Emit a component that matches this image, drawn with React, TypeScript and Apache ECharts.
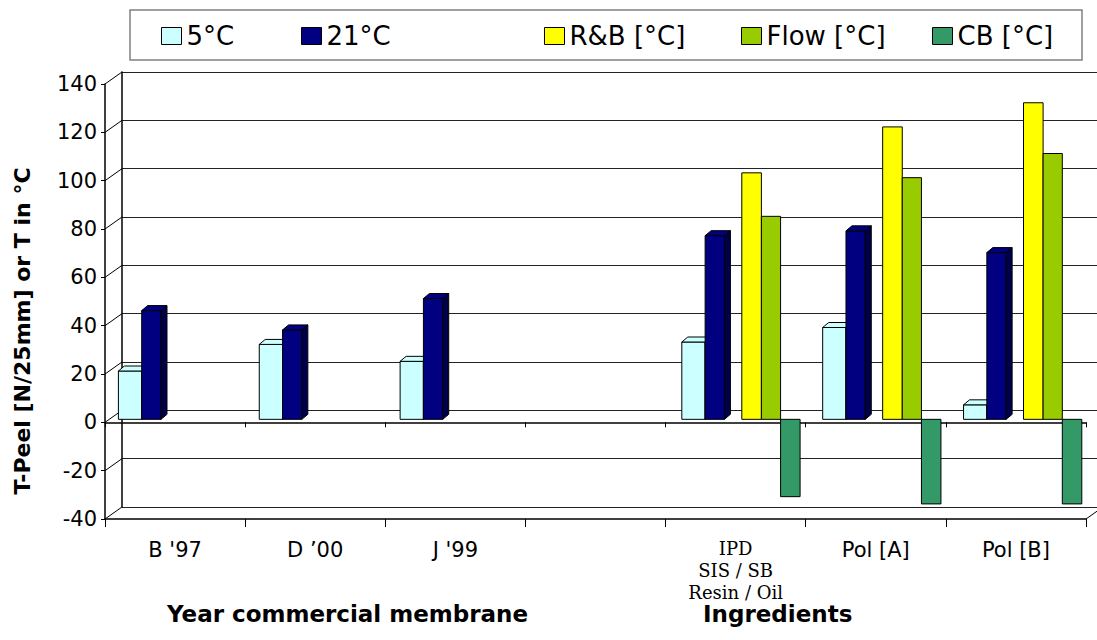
import React, { useEffect, useRef } from "react";
import * as echarts from "echarts";

// ---------- data ----------
const categories = ["B '97", "D ’00", "J '99", "", "IPD\nSIS / SB\nResin / Oil", "Pol [A]", "Pol [B]"];
const seriesNames = ["5°C", "21°C", "R&B [°C]", "Flow [°C]", "CB [°C]"];
const peel5C: (number | null)[] = [20, 31, 24, null, 32, 38, 6];
const peel21C: (number | null)[] = [45, 37, 50, null, 76, 78, 69];
const ringBall: (number | null)[] = [null, null, null, null, 102, 121, 131];
const flowTemp: (number | null)[] = [null, null, null, null, 84, 100, 110];
const coldBend: (number | null)[] = [null, null, null, null, -32, -35, -35];
const yTicks = [-40, -20, 0, 20, 40, 60, 80, 100, 120, 140];
const yTitle = "T-Peel [N/25mm] or T in °C";
const xTitleLeft = "Year commercial membrane";
const xTitleRight = "Ingredients";

// ---------- styles ----------
const COLORS = ["#CCFFFF", "#000080", "#FFFF00", "#99CC00", "#339966"];
const TOPS = ["#CCFFFF", "#000080", "#FFFF00", "#99CC00", "#339966"];
const SIDES = ["#99CCCC", "#00004A", "#CCCC00", "#779900", "#226644"];
// bar slot [start, end] as fraction of category width
const SLOTS = [
  [0.0809, 0.2463],
  [0.2463, 0.3833],
  [0.5067, 0.6458],
  [0.6458, 0.7821],
  [0.7821, 0.9205],
];
const BAR_DX = 6;
const BAR_DY = 5;
const WALL_DX = 17;
const WALL_DY = 12;
const LEGEND_LEFT = [161, 301, 544, 741, 932];

const allSeries = [peel5C, peel21C, ringBall, flowTemp, coldBend];

function makeBar(si: number, threeD: boolean) {
  return (params: any, api: any) => {
    const ci = api.value(0);
    const v = api.value(1);
    const catW = api.size([1, 0])[0];
    const base = api.coord([ci, 0]);
    const top = api.coord([ci, v]);
    const left = base[0] - catW / 2;
    const x0 = left + catW * SLOTS[si][0];
    const x1 = left + catW * SLOTS[si][1];
    const y0 = base[1];
    const y1 = top[1];
    const children: any[] = [
      {
        type: "rect",
        shape: { x: x0, y: Math.min(y0, y1), width: x1 - x0, height: Math.abs(y1 - y0) },
        style: { fill: COLORS[si], stroke: "#000", lineWidth: 1 },
      },
    ];
    if (threeD) {
      children.push({
        type: "polygon",
        shape: { points: [[x0, y1], [x1, y1], [x1 + BAR_DX, y1 - BAR_DY], [x0 + BAR_DX, y1 - BAR_DY]] },
        style: { fill: TOPS[si], stroke: "#000", lineWidth: 1 },
      });
      children.push({
        type: "polygon",
        shape: { points: [[x1, y1], [x1 + BAR_DX, y1 - BAR_DY], [x1 + BAR_DX, y0 - BAR_DY], [x1, y0]] },
        style: { fill: SIDES[si], stroke: "#000", lineWidth: 1 },
      });
    }
    return { type: "group", children };
  };
}

function frameRender(params: any, api: any) {
  const v = api.value(1);
  const cs = params.coordSys;
  const y = api.coord([0, v])[1];
  const children: any[] = [
    {
      type: "line",
      shape: { x1: cs.x, y1: y, x2: cs.x + WALL_DX, y2: y - WALL_DY },
      style: { stroke: "#000", lineWidth: 1 },
    },
  ];
  if (v === yTicks[0]) {
    children.push({
      type: "line",
      shape: { x1: cs.x + cs.width, y1: y, x2: cs.x + cs.width + WALL_DX, y2: y - WALL_DY },
      style: { stroke: "#000", lineWidth: 1 },
    });
  }
  return { type: "group", children };
}

const valueAxisBase = { type: "value", min: -40, max: 140, interval: 20 };

export default function App() {
  const ref = useRef<HTMLDivElement>(null);
  useEffect(() => {
    if (!ref.current) return;
    const chart = echarts.init(ref.current, null, { renderer: "svg" });
    const option: any = {
      animation: false,
      backgroundColor: "#fff",
      grid: [
        { left: 122, top: 72, width: 981, height: 435 },
        { left: 105, top: 84, width: 981, height: 435 },
        { left: 107, top: 81, width: 986, height: 435 },
      ],
      xAxis: [
        { type: "category", gridIndex: 0, data: categories, show: false },
        {
          type: "category",
          gridIndex: 1,
          data: categories,
          position: "bottom",
          axisLine: { onZero: false, lineStyle: { color: "#000", width: 1.5 } },
          axisTick: { show: true, length: 8, lineStyle: { color: "#000" } },
          axisLabel: {
            interval: 0,
            margin: 18,
            color: "#000",
            formatter: (val: string) =>
              val.indexOf("\n") >= 0
                ? val
                    .split("\n")
                    .map((l) => "{s|" + l + "}")
                    .join("\n")
                : "{n|" + val + "}",
            rich: {
              s: { fontFamily: "DejaVu Serif", fontSize: 18, lineHeight: 22, color: "#000" },
              n: {
                fontFamily: "DejaVu Sans",
                fontSize: 21,
                lineHeight: 22,
                padding: [4, 0, 0, 0],
                color: "#000",
              },
            },
          },
        },
        {
          type: "category",
          gridIndex: 1,
          data: categories,
          position: "bottom",
          axisLine: { onZero: true, onZeroAxisIndex: 1, lineStyle: { color: "#000", width: 1.5 } },
          axisTick: { show: true, length: 5, lineStyle: { color: "#000" } },
          axisLabel: { show: false },
        },
        { type: "category", gridIndex: 2, data: categories, show: false },
      ],
      yAxis: [
        {
          ...valueAxisBase,
          gridIndex: 0,
          axisLine: { show: true, lineStyle: { color: "#000", width: 1.5 } },
          axisTick: { show: false },
          axisLabel: { show: false },
          splitLine: { show: true, lineStyle: { color: "#222", width: 1 } },
        },
        {
          ...valueAxisBase,
          gridIndex: 1,
          axisLine: { show: true, lineStyle: { color: "#000", width: 1.5 } },
          axisTick: { show: true, length: 4, lineStyle: { color: "#000" } },
          axisLabel: { color: "#000", fontFamily: "DejaVu Sans", fontSize: 21, margin: 8 },
          splitLine: { show: false },
        },
        { ...valueAxisBase, gridIndex: 2, show: false, splitLine: { show: false } },
      ],
      legend: seriesNames.map((n, i) => ({
        data: [n],
        left: LEGEND_LEFT[i],
        top: 23,
        padding: 0,
        itemWidth: 20,
        itemHeight: 17,
        icon: "rect",
        selectedMode: false,
        itemStyle: { borderColor: "#000", borderWidth: 1 },
        textStyle: { fontFamily: "DejaVu Sans", fontSize: 26, color: "#000", lineHeight: 26 },
      })),
      graphic: [
        {
          type: "rect",
          shape: { x: 130, y: 10, width: 952, height: 50 },
          style: { fill: "none", stroke: "#808080", lineWidth: 1.5 },
          z: 0,
        },
        {
          type: "text",
          x: 22,
          y: 331,
          rotation: Math.PI / 2,
          style: {
            text: yTitle,
            fontFamily: "DejaVu Sans",
            fontWeight: "bold",
            fontSize: 22,
            fill: "#000",
            align: "center",
            verticalAlign: "middle",
          },
        },
        {
          type: "text",
          x: 167,
          y: 614,
          style: {
            text: xTitleLeft,
            fontFamily: "DejaVu Sans",
            fontWeight: "bold",
            fontSize: 23,
            fill: "#000",
            align: "left",
            verticalAlign: "middle",
          },
        },
        {
          type: "text",
          x: 703,
          y: 614,
          style: {
            text: xTitleRight,
            fontFamily: "DejaVu Sans",
            fontWeight: "bold",
            fontSize: 23,
            fill: "#000",
            align: "left",
            verticalAlign: "middle",
          },
        },
      ],
      series: [
        ...allSeries.map((vals, si) => ({
          type: "custom",
          name: seriesNames[si],
          xAxisIndex: 3,
          yAxisIndex: 2,
          renderItem: makeBar(si, si < 2),
          itemStyle: { color: COLORS[si] },
          encode: { x: 0, y: 1 },
          data: vals.map((v, i) => [i, v]).filter((d) => d[1] !== null),
          z: 3,
        })),
        {
          type: "custom",
          name: "frame",
          xAxisIndex: 1,
          yAxisIndex: 1,
          silent: true,
          renderItem: frameRender,
          encode: { x: 0, y: 1 },
          data: yTicks.map((v) => [0, v]),
          z: 1,
        },
      ],
    };
    chart.setOption(option);
    return () => chart.dispose();
  }, []);
  return (
    <div
      ref={ref}
      style={{ position: "fixed", left: 0, top: 0, width: 1097, height: 640, background: "#fff" }}
    />
  );
}
